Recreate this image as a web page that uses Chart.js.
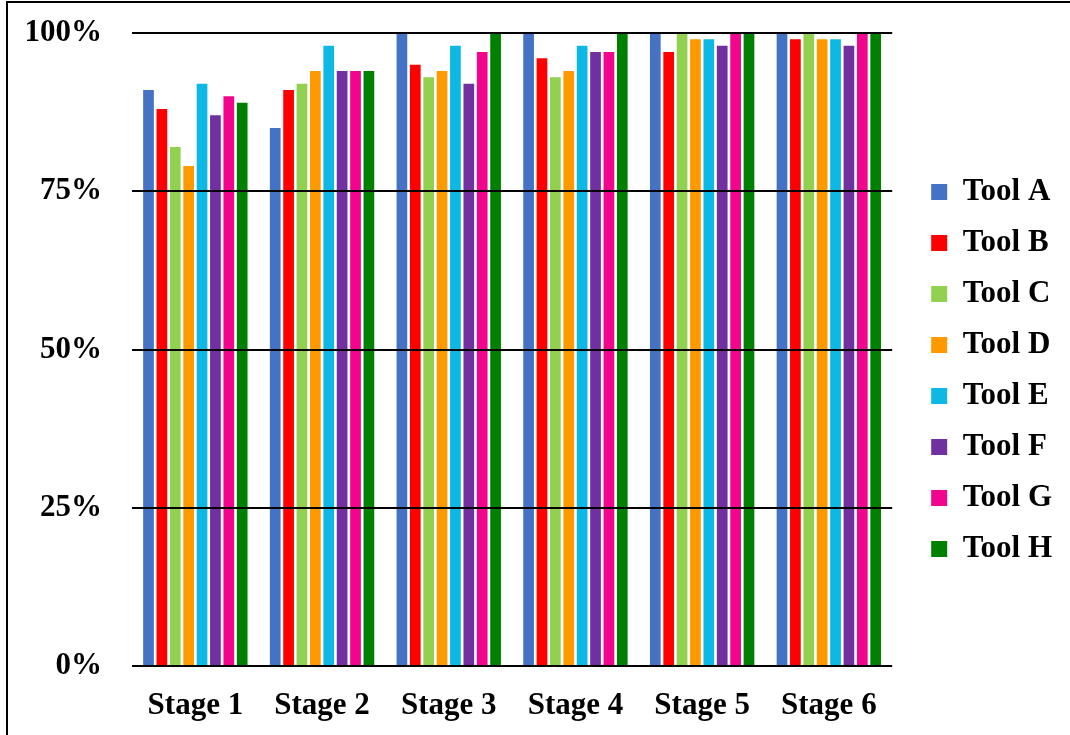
<!DOCTYPE html>
<html>
<head>
<meta charset="utf-8">
<title>Tool accuracy by stage</title>
<script src="https://cdn.jsdelivr.net/npm/chart.js@4.4.1/dist/chart.umd.min.js"></script>
<style>
  html, body { margin: 0; padding: 0; background: #ffffff; overflow: hidden; }
  #wrap { position: relative; width: 1070px; height: 735px; }
  #chart { position: absolute; left: 0; top: 0; }
  #frame {
    position: absolute; left: 6px; top: 1px; right: -10px; bottom: -10px;
    border-top: 2px solid #000; border-left: 2px solid #000;
    pointer-events: none;
  }
</style>
</head>
<body>
<div id="wrap">
  <canvas id="chart" width="1070" height="735"></canvas>
  <div id="frame"></div>
</div>
<script>
// Categories along the x axis
const stages = ['Stage 1', 'Stage 2', 'Stage 3', 'Stage 4', 'Stage 5', 'Stage 6'];

// Percentage per stage for each tool
const toolA = [91, 85, 100, 100, 100, 100];
const toolB = [88, 91, 95, 96, 97, 99];
const toolC = [82, 92, 93, 93, 100, 100];
const toolD = [79, 94, 94, 94, 99, 99];
const toolE = [92, 98, 98, 98, 99, 99];
const toolF = [87, 94, 92, 97, 98, 98];
const toolG = [90, 94, 97, 97, 100, 100];
const toolH = [89, 94, 100, 100, 100, 100];

// Y axis tick values
const yTickValues = [0, 25, 50, 75, 100];

const seriesNames = ['Tool A', 'Tool B', 'Tool C', 'Tool D', 'Tool E', 'Tool F', 'Tool G', 'Tool H'];
const seriesValues = [toolA, toolB, toolC, toolD, toolE, toolF, toolG, toolH];
const seriesColors = ['#4472C4', '#FF0000', '#92D050', '#FF9900', '#0DB8E4', '#7030A0', '#F0058C', '#008000'];

const font = { family: "'Times New Roman', 'Liberation Serif', serif", size: 31, weight: 'bold' };

const datasets = seriesNames.map((name, i) => ({
  label: name,
  data: seriesValues[i],
  backgroundColor: seriesColors[i],
  borderWidth: 0,
  categoryPercentage: 0.845,
  barPercentage: 0.8
}));

new Chart(document.getElementById('chart'), {
  type: 'bar',
  data: { labels: stages, datasets },
  options: {
    responsive: false,
    animation: false,
    devicePixelRatio: 1,
    layout: { padding: { left: 0, right: 8, top: 6, bottom: 0 } },
    plugins: {
      tooltip: { enabled: false },
      legend: {
        position: 'right',
        align: 'center',
        labels: {
          color: '#000',
          font,
          boxWidth: 16,
          boxHeight: 16,
          padding: 20
        }
      }
    },
    scales: {
      x: {
        grid: { display: false },
        border: { display: false },
        ticks: { color: '#000', font, padding: 13, maxRotation: 0 },
        afterFit(s) { s.height = 69; }
      },
      xTop: {
        type: 'category',
        position: 'top',
        grid: { display: false },
        border: { display: false },
        ticks: { display: false },
        afterFit(s) { s.height = 27; }
      },
      y: {
        min: 0,
        max: 100,
        grid: {
          color: '#000',
          lineWidth: 2,
          drawTicks: true,
          tickLength: 30,
          tickColor: 'rgba(0,0,0,0)',
          z: 1
        },
        border: { display: false },
        afterBuildTicks(s) { s.ticks = yTickValues.map(v => ({ value: v })); },
        ticks: {
          color: '#000',
          font,
          padding: 0,
          callback: v => v + '%'
        },
        afterFit(s) { s.width = 132; }
      },
      yRight: {
        type: 'linear',
        position: 'right',
        grid: { display: false },
        border: { display: false },
        ticks: { display: false },
        afterFit(s) { s.width = 19; }
      }
    }
  }
});
</script>
</body>
</html>
